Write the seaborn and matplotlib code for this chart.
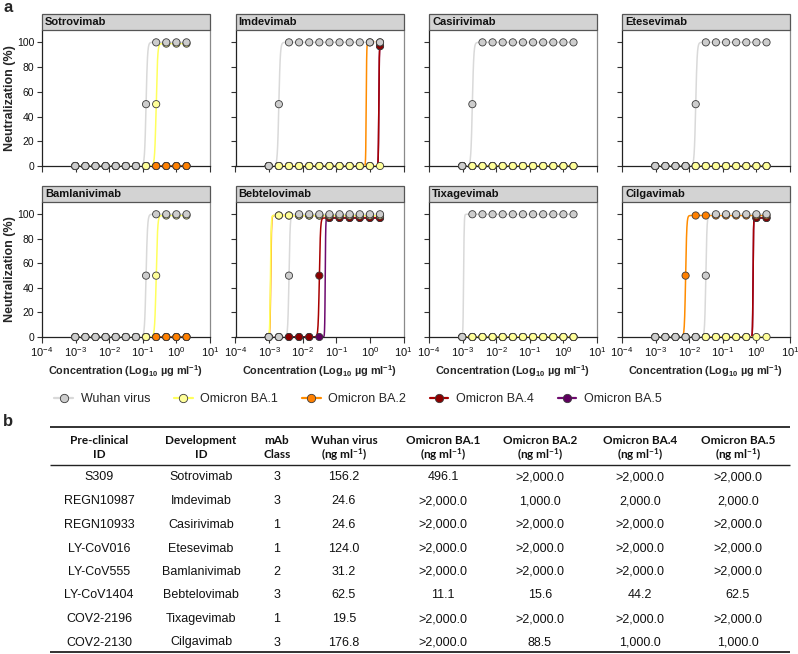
import numpy as np
import pandas as pd
import matplotlib
matplotlib.use("Agg")
import matplotlib.pyplot as plt
from matplotlib.patches import Rectangle
from matplotlib.lines import Line2D
from matplotlib import font_manager as fm
from matplotlib.ticker import FixedLocator, NullLocator
import seaborn as sns

# ------------------------------------------------------------------ data
concentration = [0.0009765625, 0.001953125, 0.00390625, 0.0078125, 0.015625,
                 0.03125, 0.0625, 0.125, 0.25, 0.5, 1.0, 2.0]  # ug/ml
variants = ["Wuhan virus", "Omicron BA.1", "Omicron BA.2", "Omicron BA.4", "Omicron BA.5"]
draw_order = ["Omicron BA.5", "Omicron BA.4", "Omicron BA.2", "Omicron BA.1", "Wuhan virus"]
antibodies = ["Sotrovimab", "Imdevimab", "Casirivimab", "Etesevimab",
              "Bamlanivimab", "Bebtelovimab", "Tixagevimab", "Cilgavimab"]

Z = [0, 0, 0, 0, 0, 0, 0, 0, 0, 0, 0, 0]

sotrovimab = {
    "Wuhan virus":  [0, 0, 0, 0, 0, 0, 0, 50, 100, 100, 100, 100],
    "Omicron BA.1": [0, 0, 0, 0, 0, 0, 0, 0, 50, 99, 99, 99],
    "Omicron BA.2": Z, "Omicron BA.4": Z, "Omicron BA.5": Z}
imdevimab = {
    "Wuhan virus":  [0, 50, 100, 100, 100, 100, 100, 100, 100, 100, 100, 100],
    "Omicron BA.1": Z,
    "Omicron BA.2": [0, 0, 0, 0, 0, 0, 0, 0, 0, 0, 100, 100],
    "Omicron BA.4": [0, 0, 0, 0, 0, 0, 0, 0, 0, 0, 0, 97],
    "Omicron BA.5": [0, 0, 0, 0, 0, 0, 0, 0, 0, 0, 0, 97]}
casirivimab = {
    "Wuhan virus":  [0, 50, 100, 100, 100, 100, 100, 100, 100, 100, 100, 100],
    "Omicron BA.1": Z, "Omicron BA.2": Z, "Omicron BA.4": Z, "Omicron BA.5": Z}
etesevimab = {
    "Wuhan virus":  [0, 0, 0, 0, 50, 100, 100, 100, 100, 100, 100, 100],
    "Omicron BA.1": Z, "Omicron BA.2": Z, "Omicron BA.4": Z, "Omicron BA.5": Z}
bamlanivimab = {
    "Wuhan virus":  [0, 0, 0, 0, 0, 0, 0, 50, 100, 100, 100, 100],
    "Omicron BA.1": [0, 0, 0, 0, 0, 0, 0, 0, 50, 99, 99, 99],
    "Omicron BA.2": Z, "Omicron BA.4": Z, "Omicron BA.5": Z}
bebtelovimab = {
    "Wuhan virus":  [0, 0, 50, 100, 100, 100, 100, 100, 100, 100, 100, 100],
    "Omicron BA.1": [0, 99, 99, 99, 99, 99, 99, 99, 99, 99, 99, 99],
    "Omicron BA.2": [0, 99, 99, 99, 99, 99, 99, 99, 99, 99, 99, 99],
    "Omicron BA.4": [0, 0, 0, 0, 0, 50, 97, 97, 97, 97, 97, 97],
    "Omicron BA.5": [0, 0, 0, 0, 0, 0, 97, 97, 97, 97, 97, 97]}
tixagevimab = {
    "Wuhan virus":  [0, 100, 100, 100, 100, 100, 100, 100, 100, 100, 100, 100],
    "Omicron BA.1": Z, "Omicron BA.2": Z, "Omicron BA.4": Z, "Omicron BA.5": Z}
cilgavimab = {
    "Wuhan virus":  [0, 0, 0, 0, 0, 50, 100, 100, 100, 100, 100, 100],
    "Omicron BA.1": Z,
    "Omicron BA.2": [0, 0, 0, 50, 99, 99, 99, 99, 99, 99, 99, 99],
    "Omicron BA.4": [0, 0, 0, 0, 0, 0, 0, 0, 0, 0, 97, 97],
    "Omicron BA.5": [0, 0, 0, 0, 0, 0, 0, 0, 0, 0, 97, 97]}

# fitted curves: (log10 EC50, top, hill slope); None = flat at 0
F0 = (None, 0, 0)
sotrovimab_fit = {"Wuhan virus": (-0.903, 100, 20), "Omicron BA.1": (-0.602, 99, 20),
                  "Omicron BA.2": F0, "Omicron BA.4": F0, "Omicron BA.5": F0}
imdevimab_fit = {"Wuhan virus": (-2.71, 100, 20), "Omicron BA.1": F0,
                 "Omicron BA.2": (-0.11, 100, 60), "Omicron BA.4": (0.265, 97, 60),
                 "Omicron BA.5": (0.265, 97, 60)}
casirivimab_fit = {"Wuhan virus": (-2.71, 100, 20), "Omicron BA.1": F0,
                   "Omicron BA.2": F0, "Omicron BA.4": F0, "Omicron BA.5": F0}
etesevimab_fit = {"Wuhan virus": (-1.806, 100, 20), "Omicron BA.1": F0,
                  "Omicron BA.2": F0, "Omicron BA.4": F0, "Omicron BA.5": F0}
bamlanivimab_fit = {"Wuhan virus": (-0.903, 100, 20), "Omicron BA.1": (-0.602, 99, 20),
                    "Omicron BA.2": F0, "Omicron BA.4": F0, "Omicron BA.5": F0}
bebtelovimab_fit = {"Wuhan virus": (-2.408, 100, 25), "Omicron BA.1": (-2.96, 99, 40),
                    "Omicron BA.2": (-2.95, 99, 40), "Omicron BA.4": (-1.505, 97, 25),
                    "Omicron BA.5": (-1.33, 97, 60)}
tixagevimab_fit = {"Wuhan virus": (-2.97, 100, 50), "Omicron BA.1": F0,
                   "Omicron BA.2": F0, "Omicron BA.4": F0, "Omicron BA.5": F0}
cilgavimab_fit = {"Wuhan virus": (-1.505, 100, 25), "Omicron BA.1": F0,
                  "Omicron BA.2": (-2.107, 99, 25), "Omicron BA.4": (-0.1, 97, 60),
                  "Omicron BA.5": (-0.1, 97, 60)}

panel_points = [sotrovimab, imdevimab, casirivimab, etesevimab,
                bamlanivimab, bebtelovimab, tixagevimab, cilgavimab]
panel_fits = [sotrovimab_fit, imdevimab_fit, casirivimab_fit, etesevimab_fit,
              bamlanivimab_fit, bebtelovimab_fit, tixagevimab_fit, cilgavimab_fit]

# table
preclinical_id = ["S309", "REGN10987", "REGN10933", "LY-CoV016", "LY-CoV555",
                  "LY-CoV1404", "COV2-2196", "COV2-2130"]
development_id = ["Sotrovimab", "Imdevimab", "Casirivimab", "Etesevimab",
                  "Bamlanivimab", "Bebtelovimab", "Tixagevimab", "Cilgavimab"]
mab_class = ["3", "3", "1", "1", "2", "3", "1", "3"]
ic50_wuhan = ["156.2", "24.6", "24.6", "124.0", "31.2", "62.5", "19.5", "176.8"]
ic50_ba1 = ["496.1", ">2,000.0", ">2,000.0", ">2,000.0", ">2,000.0", "11.1", ">2,000.0", ">2,000.0"]
ic50_ba2 = [">2,000.0", "1,000.0", ">2,000.0", ">2,000.0", ">2,000.0", "15.6", ">2,000.0", "88.5"]
ic50_ba4 = [">2,000.0", "2,000.0", ">2,000.0", ">2,000.0", ">2,000.0", "44.2", ">2,000.0", "1,000.0"]
ic50_ba5 = [">2,000.0", "2,000.0", ">2,000.0", ">2,000.0", ">2,000.0", "62.5", ">2,000.0", "1,000.0"]

# ------------------------------------------------------------------ style
sns.set_theme(style="ticks")
plt.rcParams["font.family"] = ["Liberation Sans", "DejaVu Sans"]
plt.rcParams["mathtext.default"] = "regular"

names = {f.name for f in fm.fontManager.ttflist}
narrow_ok = "Liberation Sans Narrow" in names

fill_pal = {"Wuhan virus": "#cdcdcd", "Omicron BA.1": "#ffff99", "Omicron BA.2": "#ff8000",
            "Omicron BA.4": "#8b0000", "Omicron BA.5": "#5e005e"}
curve_pal = {"Wuhan virus": "#d9d9d9", "Omicron BA.1": "#ffff5c", "Omicron BA.2": "#ff8c00",
             "Omicron BA.4": "#a80000", "Omicron BA.5": "#6e0a6e"}

W, H = 798, 654
fig = plt.figure(figsize=(W / 100, H / 100), dpi=100)

lefts = [42, 235.5, 429, 622]
ax_w = 168
rows = [(166, 136), (337, 135)]  # (bottom px, height px)

xfit = np.logspace(np.log10(concentration[0]), np.log10(concentration[-1]), 500)

for i, name in enumerate(antibodies):
    r, c = divmod(i, 4)
    bot, hgt = rows[r]
    ax = fig.add_axes([lefts[c] / W, 1 - bot / H, ax_w / W, hgt / H])

    pts = panel_points[i]
    fits = panel_fits[i]
    prow, crow = [], []
    for v in draw_order:
        for x, y in zip(concentration, pts[v]):
            prow.append({"variant": v, "conc": x, "value": y})
        ec, top, hill = fits[v]
        if ec is None:
            yfit = np.zeros_like(xfit)
        else:
            yfit = top / (1 + 10 ** (hill * (ec - np.log10(xfit))))
        for x, y in zip(xfit, yfit):
            crow.append({"variant": v, "conc": x, "fit": y})
    pdf = pd.DataFrame(prow)
    cdf = pd.DataFrame(crow)

    sns.lineplot(data=cdf, x="conc", y="fit", hue="variant", hue_order=draw_order,
                 palette=curve_pal, estimator=None, sort=True, legend=False,
                 linewidth=1.1, ax=ax, zorder=2)
    sns.scatterplot(data=pdf, x="conc", y="value", hue="variant", hue_order=draw_order,
                    palette=fill_pal, s=27, edgecolor="#3a3a3a", linewidth=0.6,
                    legend=False, ax=ax, zorder=4, clip_on=False)
    for l in ax.lines:
        l.set_clip_on(False)

    ax.set_xscale("log")
    ax.set_xlim(1e-4, 1e1)
    ax.set_ylim(0, 110)
    ax.xaxis.set_major_locator(FixedLocator([1e-4, 1e-3, 1e-2, 1e-1, 1e0, 1e1]))
    ax.xaxis.set_minor_locator(NullLocator())
    ax.set_yticks([0, 20, 40, 60, 80, 100])
    ax.set_xlabel("")
    ax.set_ylabel("")
    ax.tick_params(axis="both", length=3.5, width=0.8, color="#333333",
                   labelsize=7.5, pad=2, labelcolor="#111111")
    ax.tick_params(axis="x", length=4, labelsize=8)
    if r == 0:
        ax.tick_params(labelbottom=False)
    if c != 0:
        ax.tick_params(labelleft=False)

    ax.spines["top"].set_visible(False)
    ax.spines["left"].set_color("#222222")
    ax.spines["bottom"].set_color("#222222")
    ax.spines["right"].set_color("#8a8a8a")
    for s in ["left", "bottom", "right"]:
        ax.spines[s].set_linewidth(0.9)
        ax.spines[s].set_zorder(3)

    sh = 16.5 / hgt
    ax.add_patch(Rectangle((0, 1), 1, sh, transform=ax.transAxes, clip_on=False,
                           facecolor="#d3d3d3", edgecolor="#555555", linewidth=0.9, zorder=5))
    ax.text(3 / ax_w, 1 + sh / 2, name, transform=ax.transAxes, fontsize=8,
            fontweight="bold", va="center", ha="left", color="#111111", zorder=6)

    if c == 0:
        ax.set_ylabel("Neutralization (%)", fontsize=9, fontweight="bold", labelpad=1)
    if r == 1:
        if narrow_ok:
            ax.set_xlabel("Concentration (Log$_{10}$ µg ml$^{-1}$)", fontsize=9,
                          fontweight="bold", family=["Liberation Sans Narrow", "Liberation Sans"],
                          labelpad=3)
        else:
            ax.set_xlabel("Concentration (Log$_{10}$ µg ml$^{-1}$)", fontsize=7.8,
                          fontweight="bold", labelpad=3)

# ------------------------------------------------------------------ legend
handles = []
for v in variants:
    handles.append(Line2D([0], [0], color=curve_pal[v], lw=1.6, marker="o",
                          markersize=6, markerfacecolor=fill_pal[v],
                          markeredgecolor="#3a3a3a", markeredgewidth=0.6))
fig.legend(handles, variants, loc="center", bbox_to_anchor=(358 / W, 1 - 399 / H),
           ncol=5, frameon=False, fontsize=9, handlelength=1.5,
           handletextpad=0.6, columnspacing=1.9)

# ------------------------------------------------------------------ overlay for letters + table
ov = fig.add_axes([0, 0, 1, 1], zorder=-1)
ov.set_xlim(0, W)
ov.set_ylim(H, 0)
ov.axis("off")
ov.patch.set_alpha(0)

ov.text(3, 8, "a", fontsize=12, fontweight="bold", va="center", ha="left")
ov.text(3, 421, "b", fontsize=12, fontweight="bold", va="center", ha="left")

ov.plot([50, 790], [427, 427], color="#222222", lw=1.3, solid_capstyle="butt")
ov.plot([50, 790], [464.5, 464.5], color="#222222", lw=1.0, solid_capstyle="butt")
ov.plot([50, 790], [652, 652], color="#222222", lw=1.3, solid_capstyle="butt")

col_x = [99, 201, 277, 344, 443, 540, 640, 738]
unit = "(ng ml$^{-1}$)"
headers = [("Pre-clinical", "ID"), ("Development", "ID"), ("mAb", "Class"),
           ("Wuhan virus", unit), ("Omicron BA.1", unit), ("Omicron BA.2", unit),
           ("Omicron BA.4", unit), ("Omicron BA.5", unit)]
hdr_font = ["Lato", "Liberation Sans", "DejaVu Sans"]
for x, (l1, l2) in zip(col_x, headers):
    ov.text(x, 441, l1, ha="center", va="center", fontsize=8.5, fontweight="bold",
            family=hdr_font, color="#111111")
    ov.text(x, 455, l2, ha="center", va="center", fontsize=8.5, fontweight="bold",
            family=hdr_font, color="#111111")

row_y = [477, 501, 524.5, 548.5, 572, 595.5, 619, 642.5]
columns = [preclinical_id, development_id, mab_class, ic50_wuhan,
           ic50_ba1, ic50_ba2, ic50_ba4, ic50_ba5]
for x, col in zip(col_x, columns):
    for y, txt in zip(row_y, col):
        ov.text(x, y, txt, ha="center", va="center", fontsize=9, color="#111111")

fig.savefig("out.png", dpi=100)
